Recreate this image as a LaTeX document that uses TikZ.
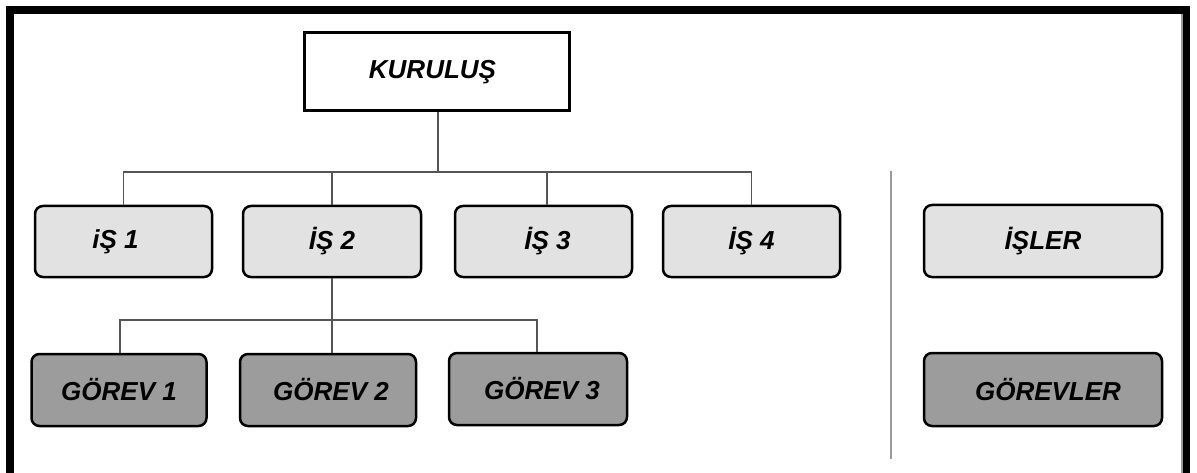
\documentclass[tikz,border=0pt]{standalone}
\usepackage{fontspec}
\setmainfont{Liberation Sans}
\begin{document}
\begin{tikzpicture}[x=1pt,y=-1pt,
  lbl/.style={font=\fontsize{26}{30}\selectfont\bfseries\itshape, text=black},
  topbox/.style={lbl, draw=black, line width=3pt, fill=white, minimum width=265pt, minimum height=78pt, inner sep=0pt},
  isbox/.style={lbl, draw=black, line width=2.5pt, fill=isgray, rounded corners=8pt, minimum width=177pt, minimum height=71pt, inner sep=0pt},
  gbox/.style={lbl, draw=black, line width=2.5pt, fill=ggray, rounded corners=8pt, minimum width=175pt, minimum height=72pt, inner sep=0pt},
  conn/.style={draw=linegray, line width=1.6pt},
]
\definecolor{isgray}{HTML}{E2E2E2}
\definecolor{ggray}{HTML}{9C9C9C}
\definecolor{linegray}{HTML}{555555}
\definecolor{sepgray}{HTML}{999999}
\useasboundingbox (0,0) rectangle (1197,473);
\fill[white] (0,0) rectangle (1197,473);
% frame
\draw[line width=8pt] (10,10) rectangle (1186,478);
\draw[sepgray, line width=2pt] (1181.5,14) -- (1181.5,473);

\node[topbox] (kur) at (436.5,72) {KURULUŞ\hspace*{8pt}};
\node[isbox] (is1) at (123.5,241.5) {iŞ 1\hspace*{16pt}};
\node[isbox, minimum width=178pt] (is2) at (332,241.5) {İŞ 2};
\node[isbox] (is3) at (543.5,241.5) {\hspace*{8pt}İŞ 3};
\node[isbox] (is4) at (751.5,241.5) {İŞ 4};
\node[isbox, minimum width=238pt, minimum height=72pt] (isler) at (1043,241) {İŞLER};

\node[gbox] (g1) at (119,390) {GÖREV 1};
\node[gbox, minimum width=176pt] (g2) at (328,390) {\hspace*{6pt}GÖREV 2};
\node[gbox, minimum width=178pt] (g3) at (538,389) {\hspace*{8pt}GÖREV 3};
\node[gbox, minimum width=238pt, minimum height=73pt] (gorevler) at (1043,389.5) {\hspace*{10pt}GÖREVLER};

% connectors
\coordinate (bus1) at (438,172);
\coordinate (bus2) at (332,320);
\draw[conn] (kur.south -| bus1) -- (bus1);
\draw[conn] (is1.north) |- (bus1) -| (is4.north);
\draw[conn] (is2.north) -- (is2.north |- bus1);
\draw[conn] ([xshift=3.5pt]is3.north) -- ([xshift=3.5pt]is3.north |- bus1);
\draw[conn] (is2.south) -- (bus2);
\draw[conn] ([xshift=1pt]g1.north) |- (bus2) -| ([xshift=-1pt]g3.north);
\draw[conn] ([xshift=4pt]g2.north) -- ([xshift=4pt]g2.north |- bus2);

% separator
\coordinate (septop) at (891,171);
\coordinate (sepbot) at (891,459);
\draw[sepgray, line width=2pt] (septop) -- (sepbot);
\end{tikzpicture}
\end{document}
